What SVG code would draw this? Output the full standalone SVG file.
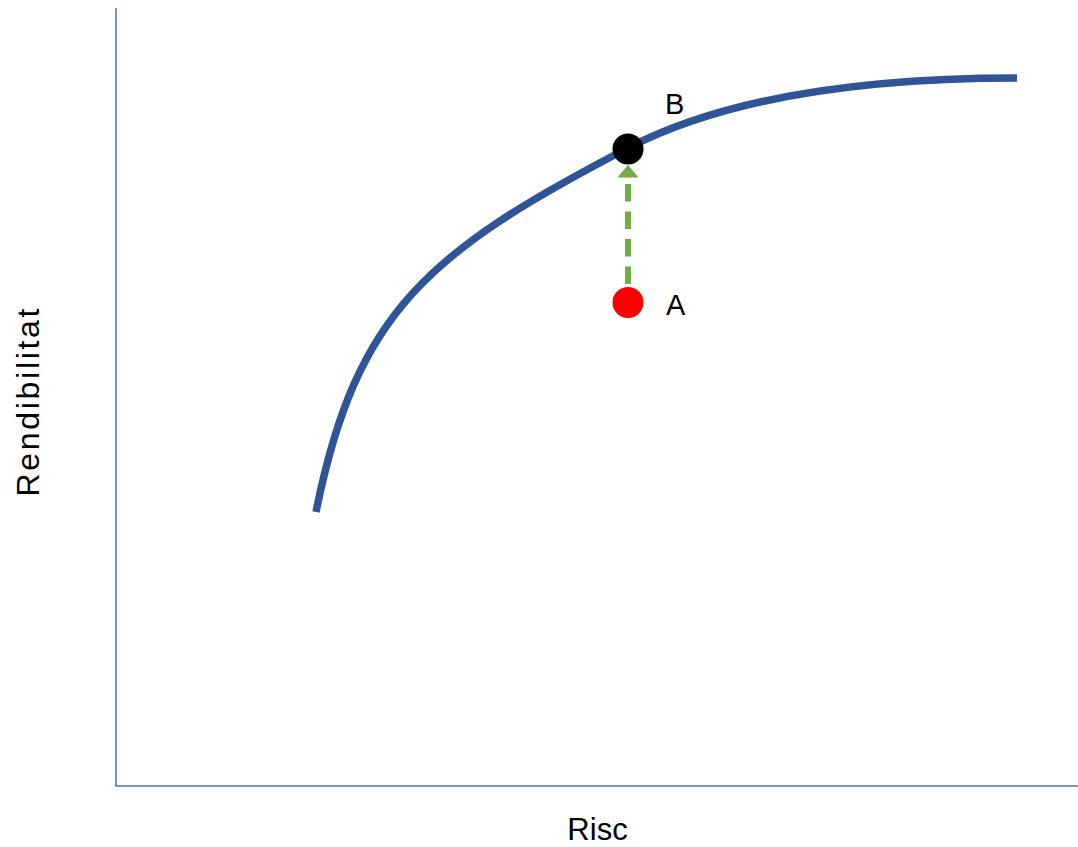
<svg xmlns="http://www.w3.org/2000/svg" width="1078" height="847" viewBox="0 0 1078 847">
<style>
.axis{stroke:#4472C4;stroke-width:1.5;fill:none}
.curve{stroke:#2F5597;stroke-width:7.5;fill:none;stroke-linecap:butt}
.lbl{font-family:"Liberation Sans",Arial,sans-serif;fill:#000}
.arrow{stroke:#70AD47;stroke-width:6;stroke-dasharray:17.5 10;fill:none}
</style>
<rect width="1078" height="847" fill="#fff"/>
<g id="axes">
<line class="axis" x1="116" y1="8" x2="116" y2="786"/>
<line class="axis" x1="115.25" y1="786" x2="1078" y2="786"/>
</g>
<g id="frontier">
<path class="curve" d="M316,512 C356,312 428,252 628,148 C728,96 867,78 1017,78"/>
</g>
<g id="connectors">
<path class="arrow" d="M628,284 V176"/>
<polygon points="628,165 617.5,177.5 638.5,177.5" fill="#70AD47"/>
</g>
<g id="nodeA">
<circle cx="628" cy="302.5" r="15.5" fill="#FF0000"/>
<text class="lbl" x="666" y="315" font-size="29">A</text>
</g>
<g id="nodeB">
<circle cx="628" cy="149" r="15.5" fill="#000"/>
<text class="lbl" x="665" y="113.5" font-size="29">B</text>
</g>
<g id="labels">
<text class="lbl" x="597.5" y="839.5" font-size="31" text-anchor="middle">Risc</text>
<text class="lbl" transform="translate(38.5,402.5) rotate(-90)" x="0" y="0" font-size="32" text-anchor="middle" textLength="188" lengthAdjust="spacing">Rendibilitat</text>
</g>
</svg>
